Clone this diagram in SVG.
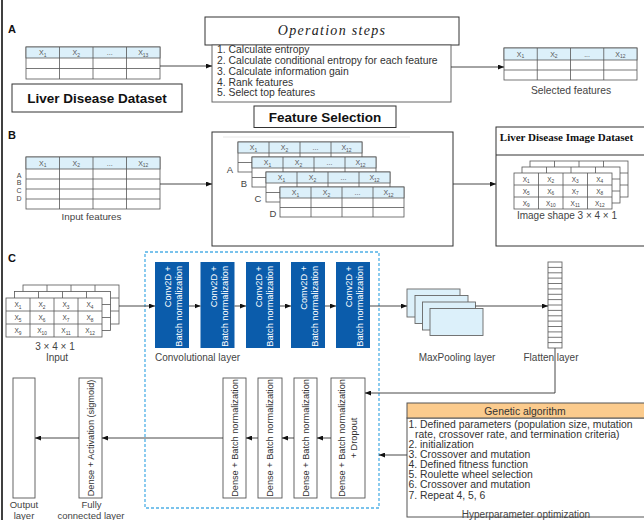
<svg xmlns="http://www.w3.org/2000/svg" width="644" height="520" viewBox="0 0 644 520">
<style>
.tb{fill:#fff;stroke:#555;stroke-width:0.8}
.hd{fill:#dcf0fa;stroke:#555;stroke-width:0.8}
.gl{stroke:#555;stroke-width:0.8;fill:none}
.ht{font-family:"Liberation Sans",Arial,sans-serif;font-size:7px;fill:#555;text-anchor:middle}
.ct{font-family:"Liberation Sans",Arial,sans-serif;font-size:6.5px;fill:#444;text-anchor:middle}
.lb{font-family:"Liberation Sans",Arial,sans-serif;font-size:10px;fill:#444;text-anchor:middle}
.bl{font-family:"Liberation Sans",Arial,sans-serif;font-size:9.5px;fill:#444;text-anchor:middle}
.sm{font-family:"Liberation Sans",Arial,sans-serif;font-size:7px;fill:#444;text-anchor:middle}
.sec{font-family:"Liberation Sans",Arial,sans-serif;font-size:11px;font-weight:bold;fill:#111}
.bx{fill:#fff;stroke:#333;stroke-width:1}
.bt{font-family:"Liberation Sans",Arial,sans-serif;font-size:13.5px;font-weight:bold;fill:#111;text-anchor:middle}
.st{font-family:"Liberation Sans",Arial,sans-serif;font-size:10.4px;fill:#333}
.conv{fill:#0b5cab}
.cvt{font-family:"Liberation Sans",Arial,sans-serif;font-size:9.2px;fill:#fff;text-anchor:end}
.dn{fill:#fff;stroke:#555;stroke-width:0.9}
.dt{font-family:"Liberation Sans",Arial,sans-serif;font-size:9.2px;fill:#333;text-anchor:middle}
.cn{stroke:#333;stroke-width:0.9;fill:none}
.mp{fill:#dcf0fa;stroke:#666;stroke-width:0.9}
</style>
<defs>
<marker id="ah" markerWidth="6" markerHeight="5" refX="6" refY="2.5" orient="auto" markerUnits="userSpaceOnUse">
<path d="M0,0 L6,2.5 L0,5 z" fill="#111"/>
</marker>
</defs>

<line x1="2" y1="0" x2="2" y2="520" stroke="#000" stroke-width="1.5"/>

<!-- Section labels -->
<text class="sec" x="8" y="33">A</text>
<text class="sec" x="8" y="139">B</text>
<text class="sec" x="8" y="262">C</text>

<!-- Section A -->
<g id="tableA">
<rect x="26" y="47" width="134" height="32" class="tb"/>
<rect x="26" y="47" width="134" height="11" class="hd"/>
<path class="gl" d="M26,68.5H160M59.5,47V79M93,47V79M126.5,47V79"/>
<text class="ht" x="42.75" y="55">X<tspan font-size="5" dy="1.5">1</tspan></text>
<text class="ht" x="76.25" y="55">X<tspan font-size="5" dy="1.5">2</tspan></text>
<text class="ht" x="109.75" y="55">...</text>
<text class="ht" x="143.25" y="55">X<tspan font-size="5" dy="1.5">13</tspan></text>
</g>
<g id="datasetLabel">
<rect x="12" y="84" width="170" height="28" class="bx"/>
<text class="bt" x="97" y="103">Liver Disease Dataset</text>
</g>
<g id="opSteps">
<rect x="205" y="17" width="254" height="28" class="bx"/>
<text x="332" y="35" font-family="'Liberation Serif','Times New Roman',serif" font-style="italic" font-size="14" letter-spacing="1.3" fill="#222" text-anchor="middle">Operation steps</text>
<rect x="212" y="45" width="239" height="57" fill="#fff" stroke="#666" stroke-width="1"/>
<text class="st" x="217" y="53">1. Calculate entropy</text>
<text class="st" x="217" y="64">2. Calculate conditional entropy for each feature</text>
<text class="st" x="217" y="75">3. Calculate information gain</text>
<text class="st" x="217" y="85.5">4. Rank features</text>
<text class="st" x="217" y="96">5. Select top features</text>
</g>
<g id="selected">
<rect x="504" y="48" width="133" height="32" class="tb"/>
<rect x="504" y="48" width="133" height="12" class="hd"/>
<path class="gl" d="M504,70H637M537.25,48V80M570.5,48V80M603.75,48V80"/>
<text class="ht" x="520.6" y="56.5">X<tspan font-size="5" dy="1.5">1</tspan></text>
<text class="ht" x="553.9" y="56.5">X<tspan font-size="5" dy="1.5">2</tspan></text>
<text class="ht" x="587.1" y="56.5">...</text>
<text class="ht" x="620.4" y="56.5">X<tspan font-size="5" dy="1.5">12</tspan></text>
<text class="lb" x="571" y="94" style="font-size:10.3px">Selected features</text>
</g>
<g id="featSelLabel">
<rect x="254" y="106" width="142" height="21.5" class="bx"/>
<text class="bt" x="325" y="122">Feature Selection</text>
</g>

<!-- Section B -->
<g id="inputFeatures">
<rect x="26" y="157" width="134" height="52" class="tb"/>
<rect x="26" y="157" width="134" height="12" class="hd"/>
<path class="gl" d="M26,179H160M26,189H160M26,199H160M59.5,157V209M93,157V209M126.5,157V209"/>
<text class="ht" x="42.75" y="165.5">X<tspan font-size="5" dy="1.5">1</tspan></text>
<text class="ht" x="76.25" y="165.5">X<tspan font-size="5" dy="1.5">2</tspan></text>
<text class="ht" x="109.75" y="165.5">...</text>
<text class="ht" x="143.25" y="165.5">X<tspan font-size="5" dy="1.5">12</tspan></text>
<text class="sm" x="19" y="177.5">A</text>
<text class="sm" x="19" y="185.3">B</text>
<text class="sm" x="19" y="193.1">C</text>
<text class="sm" x="19" y="200.9">D</text>
<text class="lb" x="91.5" y="219.5" style="font-size:9.8px">Input features</text>
</g>
<g id="featSelBox">
<rect x="212" y="132" width="241" height="114" class="bx"/>
<line x1="223" y1="137" x2="410" y2="137" stroke="#e6e6e6" stroke-width="1"/>
<text class="lb" x="230" y="172.5" style="font-size:9.5px">A</text>
<text class="lb" x="244" y="187" style="font-size:9.5px">B</text>
<text class="lb" x="258" y="201.5" style="font-size:9.5px">C</text>
<text class="lb" x="273" y="216.5" style="font-size:9.5px">D</text>
<g>
<rect x="238" y="142" width="124" height="30" class="tb"/>
<rect x="238" y="142" width="124" height="11" class="hd"/>
<path class="gl" d="M238,162.5H362M269,142V172M300,142V172M331,142V172"/>
<text class="ht" x="253.5" y="150">X<tspan font-size="5" dy="1.5">1</tspan></text>
<text class="ht" x="284.5" y="150">X<tspan font-size="5" dy="1.5">2</tspan></text>
<text class="ht" x="315.5" y="150">...</text>
<text class="ht" x="346.5" y="150">X<tspan font-size="5" dy="1.5">12</tspan></text>
</g>
<g>
<rect x="252" y="157" width="124" height="30" class="tb"/>
<rect x="252" y="157" width="124" height="11" class="hd"/>
<path class="gl" d="M252,177.5H376M283,157V187M314,157V187M345,157V187"/>
<text class="ht" x="267.5" y="165">X<tspan font-size="5" dy="1.5">1</tspan></text>
<text class="ht" x="298.5" y="165">X<tspan font-size="5" dy="1.5">2</tspan></text>
<text class="ht" x="329.5" y="165">...</text>
<text class="ht" x="360.5" y="165">X<tspan font-size="5" dy="1.5">12</tspan></text>
</g>
<g>
<rect x="266" y="172" width="124" height="30" class="tb"/>
<rect x="266" y="172" width="124" height="11" class="hd"/>
<path class="gl" d="M266,192.5H390M297,172V202M328,172V202M359,172V202"/>
<text class="ht" x="281.5" y="180">X<tspan font-size="5" dy="1.5">1</tspan></text>
<text class="ht" x="312.5" y="180">X<tspan font-size="5" dy="1.5">2</tspan></text>
<text class="ht" x="343.5" y="180">...</text>
<text class="ht" x="374.5" y="180">X<tspan font-size="5" dy="1.5">12</tspan></text>
</g>
<g>
<rect x="280" y="187" width="124" height="30" class="tb"/>
<rect x="280" y="187" width="124" height="11" class="hd"/>
<path class="gl" d="M280,207.5H404M311,187V217M342,187V217M373,187V217"/>
<text class="ht" x="295.5" y="195">X<tspan font-size="5" dy="1.5">1</tspan></text>
<text class="ht" x="326.5" y="195">X<tspan font-size="5" dy="1.5">2</tspan></text>
<text class="ht" x="357.5" y="195">...</text>
<text class="ht" x="388.5" y="195">X<tspan font-size="5" dy="1.5">12</tspan></text>
</g>
</g>
<g id="imageDataset">
<rect x="496" y="127" width="150" height="119" class="bx"/>
<line x1="496" y1="155" x2="646" y2="155" stroke="#333" stroke-width="1"/>
<text x="566.5" y="141" font-family="'Liberation Serif','Times New Roman',serif" font-weight="bold" font-size="11" fill="#111" text-anchor="middle">Liver Disease Image Dataset</text>
<rect x="530" y="161" width="98" height="36" class="tb"/>
<path class="gl" d="M530,173H628M530,185H628M554.5,161V197M579,161V197M603.5,161V197"/>
<rect x="522" y="167" width="98" height="36" class="tb"/>
<path class="gl" d="M522,179H620M522,191H620M546.5,167V203M571,167V203M595.5,167V203"/>
<rect x="514" y="173" width="98" height="36" class="tb"/>
<path class="gl" d="M514,185H612M514,197H612M538.5,173V209M563,173V209M587.5,173V209"/>
<text class="ct" x="526.25" y="181.5">X<tspan font-size="4.8" dy="1.5">1</tspan></text>
<text class="ct" x="550.75" y="181.5">X<tspan font-size="4.8" dy="1.5">2</tspan></text>
<text class="ct" x="575.25" y="181.5">X<tspan font-size="4.8" dy="1.5">3</tspan></text>
<text class="ct" x="599.75" y="181.5">X<tspan font-size="4.8" dy="1.5">4</tspan></text>
<text class="ct" x="526.25" y="193.5">X<tspan font-size="4.8" dy="1.5">5</tspan></text>
<text class="ct" x="550.75" y="193.5">X<tspan font-size="4.8" dy="1.5">6</tspan></text>
<text class="ct" x="575.25" y="193.5">X<tspan font-size="4.8" dy="1.5">7</tspan></text>
<text class="ct" x="599.75" y="193.5">X<tspan font-size="4.8" dy="1.5">8</tspan></text>
<text class="ct" x="526.25" y="205.5">X<tspan font-size="4.8" dy="1.5">9</tspan></text>
<text class="ct" x="550.75" y="205.5">X<tspan font-size="4.8" dy="1.5">10</tspan></text>
<text class="ct" x="575.25" y="205.5">X<tspan font-size="4.8" dy="1.5">11</tspan></text>
<text class="ct" x="599.75" y="205.5">X<tspan font-size="4.8" dy="1.5">12</tspan></text>
<text class="lb" x="567" y="219">Image shape 3 × 4 × 1</text>
</g>

<!-- Section C -->
<g id="inputC">
<rect x="23" y="285" width="96" height="39" class="tb"/>
<path class="gl" d="M23,298H119M23,311H119M47,285V324M71,285V324M95,285V324"/>
<rect x="14.5" y="291.5" width="96" height="39" class="tb"/>
<path class="gl" d="M14.5,304.5H110.5M14.5,317.5H110.5M38.5,291.5V330.5M62.5,291.5V330.5M86.5,291.5V330.5"/>
<rect x="6" y="298" width="96" height="39" class="tb"/>
<path class="gl" d="M6,311H102M6,324H102M30,298V337M54,298V337M78,298V337"/>
<text class="ct" x="18" y="307">X<tspan font-size="4.8" dy="1.5">1</tspan></text>
<text class="ct" x="42" y="307">X<tspan font-size="4.8" dy="1.5">2</tspan></text>
<text class="ct" x="66" y="307">X<tspan font-size="4.8" dy="1.5">3</tspan></text>
<text class="ct" x="90" y="307">X<tspan font-size="4.8" dy="1.5">4</tspan></text>
<text class="ct" x="18" y="320">X<tspan font-size="4.8" dy="1.5">5</tspan></text>
<text class="ct" x="42" y="320">X<tspan font-size="4.8" dy="1.5">6</tspan></text>
<text class="ct" x="66" y="320">X<tspan font-size="4.8" dy="1.5">7</tspan></text>
<text class="ct" x="90" y="320">X<tspan font-size="4.8" dy="1.5">8</tspan></text>
<text class="ct" x="18" y="333">X<tspan font-size="4.8" dy="1.5">9</tspan></text>
<text class="ct" x="42" y="333">X<tspan font-size="4.8" dy="1.5">10</tspan></text>
<text class="ct" x="66" y="333">X<tspan font-size="4.8" dy="1.5">11</tspan></text>
<text class="ct" x="90" y="333">X<tspan font-size="4.8" dy="1.5">12</tspan></text>
<text class="lb" x="55" y="350">3 × 4 × 1</text>
<text class="lb" x="57" y="360.5">Input</text>
</g>

<g id="convRegion">
<rect x="145" y="252" width="234" height="256" fill="none" stroke="#4fb0e6" stroke-width="1.3" stroke-dasharray="3,2"/>
<text class="lb" x="155" y="361" style="text-anchor:start">Convolutional layer</text>
</g>
<g id="conv1">
<rect class="conv" x="155" y="262" width="34" height="86"/>
<text class="cvt" transform="translate(171.2,266) rotate(-90)">Conv2D +</text>
<text class="cvt" transform="translate(182.2,266) rotate(-90)">Batch normalization</text>
</g>
<g id="conv2">
<rect class="conv" x="200.5" y="262" width="34" height="86"/>
<text class="cvt" transform="translate(216.7,266) rotate(-90)">Conv2D +</text>
<text class="cvt" transform="translate(227.7,266) rotate(-90)">Batch normalization</text>
</g>
<g id="conv3">
<rect class="conv" x="246" y="262" width="34" height="86"/>
<text class="cvt" transform="translate(262.2,266) rotate(-90)">Conv2D +</text>
<text class="cvt" transform="translate(273.2,266) rotate(-90)">Batch normalization</text>
</g>
<g id="conv4">
<rect class="conv" x="291" y="262" width="34" height="86"/>
<text class="cvt" transform="translate(307.2,266) rotate(-90)">Comv2D +</text>
<text class="cvt" transform="translate(318.2,266) rotate(-90)">Batch normalization</text>
</g>
<g id="conv5">
<rect class="conv" x="336" y="262" width="34" height="86"/>
<text class="cvt" transform="translate(352.2,266) rotate(-90)">Conv2D +</text>
<text class="cvt" transform="translate(363.2,266) rotate(-90)">Batch normalization</text>
</g>

<g id="maxpool">
<rect class="mp" x="407" y="289" width="53" height="28"/>
<rect class="mp" x="415" y="295.5" width="53" height="28"/>
<rect class="mp" x="422.5" y="302" width="53" height="28"/>
<rect class="mp" x="430" y="308.5" width="53" height="27"/>
<text class="lb" x="457" y="361">MaxPooling layer</text>
</g>
<g id="flatten">
<rect x="548" y="262" width="14" height="86" fill="#fff" stroke="#666" stroke-width="0.9"/>
<path class="gl" d="M548,267.4H562M548,272.8H562M548,278.1H562M548,283.5H562M548,288.9H562M548,294.3H562M548,299.6H562M548,305H562M548,310.4H562M548,315.8H562M548,321.1H562M548,326.5H562M548,331.9H562M548,337.3H562M548,342.6H562"/>
<text class="lb" x="551" y="361">Flatten layer</text>
</g>

<g id="dense4">
<rect class="dn" x="331" y="378" width="34" height="120"/>
<text class="dt" transform="translate(345.2,438) rotate(-90)">Dense + Batch normalization</text>
<text class="dt" transform="translate(357.2,438) rotate(-90)">+ Dropout</text>
</g>
<g id="dense3">
<rect class="dn" x="294" y="378" width="23" height="120"/>
<text class="dt" transform="translate(308.7,438) rotate(-90)">Dense + Batch normalization</text>
</g>
<g id="dense2">
<rect class="dn" x="258" y="378" width="24" height="120"/>
<text class="dt" transform="translate(273.2,438) rotate(-90)">Dense + Batch normalization</text>
</g>
<g id="dense1">
<rect class="dn" x="223" y="378" width="23" height="120"/>
<text class="dt" transform="translate(237.7,438) rotate(-90)">Dense + Batch normalization</text>
</g>
<g id="fullyConnected">
<rect class="dn" x="79" y="378" width="23" height="120"/>
<text class="dt" transform="translate(93.7,438) rotate(-90)">Dense + Activation (sigmoid)</text>
<text class="bl" x="91.5" y="507.5">Fully</text>
<text class="bl" x="91" y="518.5">connected layer</text>
</g>
<g id="outputLayer">
<rect class="dn" x="13" y="378" width="22" height="120"/>
<text class="bl" x="24" y="507.5">Output</text>
<text class="bl" x="24" y="518.5">layer</text>
</g>

<g id="genetic">
<rect x="407" y="418" width="240" height="99" fill="#fff" stroke="#555" stroke-width="1"/>
<rect x="407" y="403" width="240" height="15" fill="#fbcb8d" stroke="#555" stroke-width="1"/>
<text class="st" x="525" y="414.5" style="text-anchor:middle">Genetic algorithm</text>
<text class="st" x="408.5" y="427.5">1. Defined parameters (population size, mutation</text>
<text class="st" x="415" y="437.5">rate, crossover rate, and termination criteria)</text>
<text class="st" x="408.5" y="447.5">2. initialization</text>
<text class="st" x="408.5" y="457.5">3. Crossover and mutation</text>
<text class="st" x="408.5" y="467.5">4. Defined fitness function</text>
<text class="st" x="408.5" y="477.5">5. Roulette wheel selection</text>
<text class="st" x="408.5" y="488">6. Crossover and mutation</text>
<text class="st" x="408.5" y="498.5">7. Repeat 4, 5, 6</text>
<text class="lb" x="526" y="518">Hyperparameter optimization</text>
</g>

<g id="connectors">
<path class="cn" d="M160,66H212" marker-end="url(#ah)"/>
<path class="cn" d="M451,67H504" marker-end="url(#ah)"/>
<path class="cn" d="M160,184H212" marker-end="url(#ah)"/>
<path class="cn" d="M453,184H496" marker-end="url(#ah)"/>
<path class="cn" d="M119,306H155" marker-end="url(#ah)"/>
<path class="cn" d="M189,306H200.5" marker-end="url(#ah)"/>
<path class="cn" d="M234.5,306H246" marker-end="url(#ah)"/>
<path class="cn" d="M280,306H291" marker-end="url(#ah)"/>
<path class="cn" d="M325,306H336" marker-end="url(#ah)"/>
<path class="cn" d="M370,306H407" marker-end="url(#ah)"/>
<path class="cn" d="M475.5,306H548" marker-end="url(#ah)"/>
<path class="cn" d="M555,348V393H365" marker-end="url(#ah)"/>
<path class="cn" d="M331,438H317" marker-end="url(#ah)"/>
<path class="cn" d="M294,438H282" marker-end="url(#ah)"/>
<path class="cn" d="M258,438H246" marker-end="url(#ah)"/>
<path class="cn" d="M223,438H102" marker-end="url(#ah)"/>
<path class="cn" d="M79,438H35" marker-end="url(#ah)"/>
<path class="cn" d="M407,455H379" marker-end="url(#ah)"/>
</g>
</svg>
